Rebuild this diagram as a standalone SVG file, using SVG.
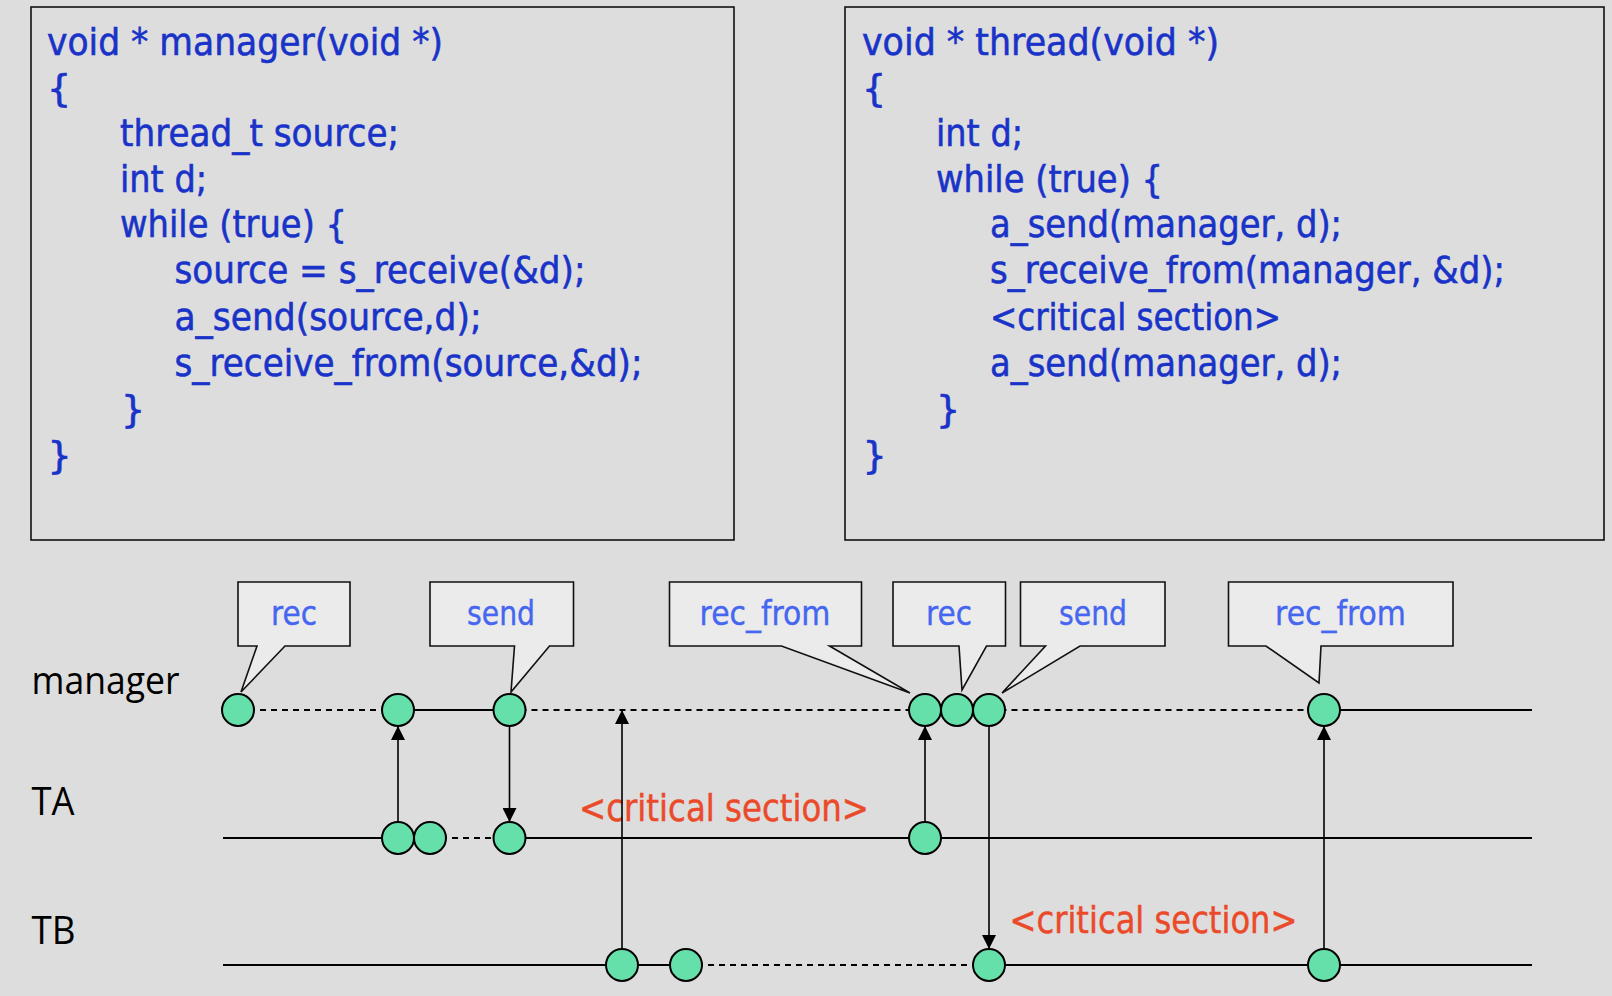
<svg xmlns="http://www.w3.org/2000/svg" width="1612" height="996" viewBox="0 0 1612 996">
<defs>
<style>
.code{font-family:"DejaVu Sans","Liberation Sans",sans-serif;font-size:38px;fill:#1933C8;stroke:#1933C8;stroke-width:0.6}
.box{fill:#DDDDDD;stroke:#111;stroke-width:1.6}
.lbl{font-family:"Open Sans","DejaVu Sans",sans-serif;font-size:38px;fill:#000}
.crit{font-family:"DejaVu Sans","Liberation Sans",sans-serif;font-size:38px;fill:#EB4A2A;stroke:#EB4A2A;stroke-width:0.5}
.call{fill:#EBEBEB;stroke:#111;stroke-width:1.6;stroke-linejoin:miter}
.ctxt{font-family:"DejaVu Sans","Liberation Sans",sans-serif;font-size:34px;fill:#4566F0;stroke:#4566F0;stroke-width:0.4;text-anchor:middle}
.solid{stroke:#000;stroke-width:2;fill:none}
.dash{stroke:#000;stroke-width:2;fill:none;stroke-dasharray:6 5}
.arr{stroke:#000;stroke-width:1.6;fill:none;marker-end:url(#ah)}
.ev{fill:#66E0AA;stroke:#000;stroke-width:2}
</style>
<marker id="ah" markerUnits="userSpaceOnUse" markerWidth="14" markerHeight="14" viewBox="0 0 14 14" refX="14" refY="7" orient="auto">
<path d="M0,0 L14,7 L0,14 Z" fill="#000"/>
</marker>
</defs>
<rect x="0" y="0" width="1612" height="996" fill="#DDDDDD"/>

<g id="manager-code">
<rect class="box" x="31" y="7" width="703" height="533"/>
<text class="code" x="47" y="54.5" textLength="396" lengthAdjust="spacingAndGlyphs">void * manager(void *)</text>
<text class="code" x="47" y="100.5">{</text>
<text class="code" x="120" y="145.5" textLength="279" lengthAdjust="spacingAndGlyphs">thread_t source;</text>
<text class="code" x="120" y="191.5" textLength="87" lengthAdjust="spacingAndGlyphs">int d;</text>
<text class="code" x="120" y="237" textLength="227" lengthAdjust="spacingAndGlyphs">while (true) {</text>
<text class="code" x="174.5" y="283" textLength="411" lengthAdjust="spacingAndGlyphs">source = s_receive(&amp;d);</text>
<text class="code" x="174.5" y="329.5" textLength="307" lengthAdjust="spacingAndGlyphs">a_send(source,d);</text>
<text class="code" x="174.5" y="375.5" textLength="468" lengthAdjust="spacingAndGlyphs">s_receive_from(source,&amp;d);</text>
<text class="code" x="121" y="421.5">}</text>
<text class="code" x="47.5" y="467.5">}</text>
</g>

<g id="thread-code">
<rect class="box" x="845" y="7" width="759" height="533"/>
<text class="code" x="862" y="54.5" textLength="357" lengthAdjust="spacingAndGlyphs">void * thread(void *)</text>
<text class="code" x="862" y="100.5">{</text>
<text class="code" x="936" y="145.5" textLength="87" lengthAdjust="spacingAndGlyphs">int d;</text>
<text class="code" x="936" y="191.5" textLength="227" lengthAdjust="spacingAndGlyphs">while (true) {</text>
<text class="code" x="990" y="237" textLength="352" lengthAdjust="spacingAndGlyphs">a_send(manager, d);</text>
<text class="code" x="990" y="283" textLength="515" lengthAdjust="spacingAndGlyphs">s_receive_from(manager, &amp;d);</text>
<text class="code" x="990" y="329.5" textLength="291" lengthAdjust="spacingAndGlyphs">&lt;critical section&gt;</text>
<text class="code" x="990" y="375.5" textLength="352" lengthAdjust="spacingAndGlyphs">a_send(manager, d);</text>
<text class="code" x="936" y="421.5">}</text>
<text class="code" x="862.5" y="467.5">}</text>
</g>

<g id="labels">
<text class="lbl" x="31.5" y="693.5" textLength="148" lengthAdjust="spacingAndGlyphs">manager</text>
<text class="lbl" x="31.5" y="815" textLength="43" lengthAdjust="spacingAndGlyphs">TA</text>
<text class="lbl" x="31.5" y="943.5" textLength="44" lengthAdjust="spacingAndGlyphs">TB</text>
</g>

<g id="timelines">
<path class="dash" d="M238,710 H398"/>
<path class="solid" d="M398,710 H509.5"/>
<path class="dash" d="M509.5,710 H925"/>
<path class="solid" d="M925,710 H989.5"/>
<path class="dash" d="M989.5,710 H1324"/>
<path class="solid" d="M1324,710 H1532"/>
<path class="solid" d="M223,838 H430"/>
<path class="dash" d="M430,838 H509.5"/>
<path class="solid" d="M509.5,838 H1532"/>
<path class="solid" d="M223,965 H686"/>
<path class="dash" d="M686,965 H989"/>
<path class="solid" d="M989,965 H1532"/>
</g>

<g id="critical-labels">
<text class="crit" x="579" y="821" textLength="290" lengthAdjust="spacingAndGlyphs">&lt;critical section&gt;</text>
<text class="crit" x="1009.5" y="933" textLength="288" lengthAdjust="spacingAndGlyphs">&lt;critical section&gt;</text>
</g>

<g id="connectors">
<path class="arr" d="M398,822 V726"/>
<path class="arr" d="M509.5,726 V822"/>
<path class="arr" d="M622,949 V710"/>
<path class="arr" d="M925,822 V726"/>
<path class="arr" d="M989,726 V949"/>
<path class="arr" d="M1324,949 V726"/>
</g>

<g id="events">
<circle class="ev" cx="238" cy="710" r="16"/>
<circle class="ev" cx="398" cy="710" r="16"/>
<circle class="ev" cx="509.5" cy="710" r="16"/>
<circle class="ev" cx="925" cy="710" r="16"/>
<circle class="ev" cx="957" cy="710" r="16"/>
<circle class="ev" cx="989" cy="710" r="16"/>
<circle class="ev" cx="1324" cy="710" r="16"/>
<circle class="ev" cx="398" cy="838" r="16"/>
<circle class="ev" cx="430" cy="838" r="16"/>
<circle class="ev" cx="509.5" cy="838" r="16"/>
<circle class="ev" cx="925" cy="838" r="16"/>
<circle class="ev" cx="622" cy="965" r="16"/>
<circle class="ev" cx="686" cy="965" r="16"/>
<circle class="ev" cx="989" cy="965" r="16"/>
<circle class="ev" cx="1324" cy="965" r="16"/>
</g>

<g id="callout-rec1">
<path class="call" d="M238,582 H350 V646 H285 L241,692 L257,646 H238 Z"/>
<text class="ctxt" x="294" y="625" textLength="46" lengthAdjust="spacingAndGlyphs">rec</text>
</g>
<g id="callout-send1">
<path class="call" d="M430,582 H573.5 V646 H549.5 L511,692 L514.5,646 H430 Z"/>
<text class="ctxt" x="501" y="625" textLength="68" lengthAdjust="spacingAndGlyphs">send</text>
</g>
<g id="callout-recfrom1">
<path class="call" d="M669.5,582 H861.5 V646 H829.5 L910,693 L781.5,646 H669.5 Z"/>
<text class="ctxt" x="765" y="625" textLength="131" lengthAdjust="spacingAndGlyphs">rec_from</text>
</g>
<g id="callout-rec2">
<path class="call" d="M893,582 H1005.5 V646 H986.5 L962,690 L959,646 H893 Z"/>
<text class="ctxt" x="949" y="625" textLength="46" lengthAdjust="spacingAndGlyphs">rec</text>
</g>
<g id="callout-send2">
<path class="call" d="M1020.5,582 H1165 V646 H1080 L1002,693 L1045.5,646 H1020.5 Z"/>
<text class="ctxt" x="1093" y="625" textLength="68" lengthAdjust="spacingAndGlyphs">send</text>
</g>
<g id="callout-recfrom2">
<path class="call" d="M1228.5,582 H1453 V646 H1321 L1319,683 L1266,646 H1228.5 Z"/>
<text class="ctxt" x="1340.5" y="625" textLength="131" lengthAdjust="spacingAndGlyphs">rec_from</text>
</g>
</svg>
